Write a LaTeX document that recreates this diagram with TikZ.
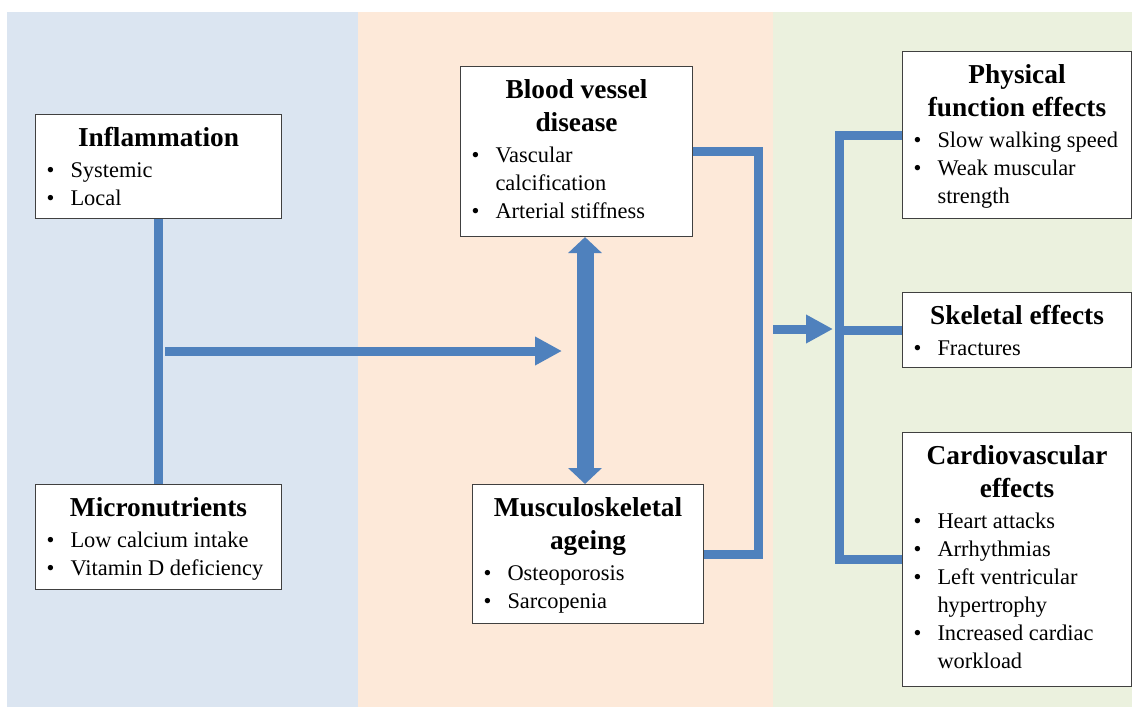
\documentclass[tikz,border=0pt]{standalone}
\usepackage{fontspec}
\setmainfont{Liberation Serif}
\usetikzlibrary{arrows.meta}
\newlength\px \setlength\px{0.75pt}
\definecolor{bluebg}{HTML}{DBE5F1}
\definecolor{peachbg}{HTML}{FDE9D9}
\definecolor{greenbg}{HTML}{EBF1DE}
\definecolor{conncol}{HTML}{4F81BD}
\newcommand\ttlfont{\rmfamily\bfseries\fontsize{20.5pt}{24.75pt}\selectfont}
\newcommand\bodyfont{\rmfamily\mdseries\upshape\fontsize{16.8pt}{21pt}\selectfont}
\newcommand\itm[1]{\par\hangindent=35\px\hangafter=1\noindent\makebox[35\px][l]{\hspace{11\px}\textbullet}#1}
\newcommand\bxt[4]{\begin{minipage}[t][#2\px][t]{#1\px}\centering{\ttlfont\rule{0pt}{32\px}#3\par}\vspace{3\px}\raggedright\bodyfont #4\par\end{minipage}}
\begin{document}
\begin{tikzpicture}[x=0.75pt,y=-0.75pt,
  box/.style={draw=black!75, line width=0.8pt, fill=white, inner sep=0pt, anchor=north west},
  conn/.style={draw=conncol, line width=6.75pt},
  harrow/.style={conn, -{Triangle[length=20.25pt,width=20.25pt]}},
  dbl/.style={draw=conncol, line width=12.75pt, {Triangle[length=12pt,width=24.75pt]}-{Triangle[length=12pt,width=24.75pt]}}]
\useasboundingbox (0,0) rectangle (1132,707);
\fill[white] (0,0) rectangle (1132,707);
\fill[bluebg] (7,12) rectangle (358,707);
\fill[peachbg] (358,12) rectangle (773,707);
\fill[greenbg] (773,12) rectangle (1132,707);

\node[box] (infl) at (35,114) {\bxt{246}{104}{Inflammation}{\itm{Systemic}\itm{Local}}};
\node[box] (micro) at (35,484) {\bxt{246}{105}{Micronutrients}{\itm{Low calcium intake}\itm{Vitamin D deficiency}}};
\node[box] (bvd) at (460,66) {\bxt{232}{170}{Blood vessel\\disease}{\itm{Vascular\newline calcification}\itm{Arterial stiffness}}};
\node[box] (msk) at (472,484) {\bxt{231}{139}{Musculoskeletal\\ageing}{\itm{Osteoporosis}\itm{Sarcopenia}}};
\node[box] (phys) at (902,51) {\bxt{229}{167}{Physical\\function effects}{\itm{Slow walking speed}\itm{Weak muscular\newline strength}}};
\node[box] (skel) at (902,292) {\bxt{229}{75}{Skeletal effects}{\itm{Fractures}}};
\node[box] (cardio) at (902,432) {\bxt{229}{254}{Cardiovascular\\effects}{\itm{Heart attacks}\itm{Arrhythmias}\itm{Left ventricular\newline hypertrophy}\itm{Increased cardiac\newline workload}}};

\coordinate (hs) at (165,351);
\coordinate (ht) at (562,351);
\coordinate (vx) at (585,0);
\coordinate (rj) at (758,351);
\coordinate (as) at (773,329);
\coordinate (at) at (833,329);
\coordinate (bx) at (839,0);

\draw[conn] (infl.south) -- (micro.north);
\draw[harrow] (hs) -- (ht);
\draw[dbl] (bvd.south -| vx) -- (msk.north -| vx);
\draw[conn] (bvd.east) -| (rj) |- (msk.east);
\draw[harrow] (as) -- (at);
\draw[conn] (phys.west) -- (bx |- phys.west) -- (bx |- cardio.west) -- (cardio.west);
\draw[conn] (bx |- skel.west) -- (skel.west);
\end{tikzpicture}
\end{document}
